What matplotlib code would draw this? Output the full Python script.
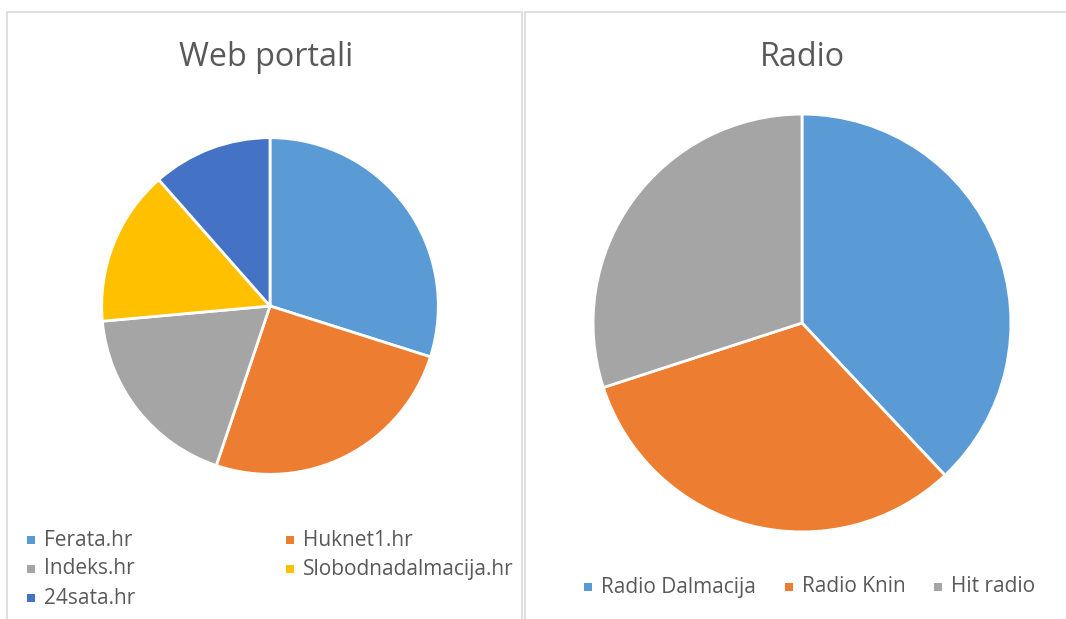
import matplotlib
matplotlib.use('Agg')
import matplotlib.pyplot as plt
from matplotlib.patches import Rectangle

plt.rcParams['font.family'] = ['Open Sans', 'DejaVu Sans']

# data
web_labels = ['Ferata.hr', 'Huknet1.hr', 'Indeks.hr', 'Slobodnadalmacija.hr', '24sata.hr']
web_values = [26, 22, 16, 13, 10]
radio_labels = ['Radio Dalmacija', 'Radio Knin', 'Hit radio']
radio_values = [19, 16, 15]

colors = ['#5B9BD5', '#ED7D31', '#A5A5A5', '#FFC000', '#4472C4']
text_col = '#595959'

W, H = 1066, 619
fig = plt.figure(figsize=(W / 100, H / 100), dpi=100)


def px_axes(cx, cy, r):
    # axes square around pie centre given in pixel coords (top-left origin)
    return fig.add_axes([(cx - r) / W, (H - cy - r) / H, 2 * r / W, 2 * r / H])


# panel borders
fig.patches.append(Rectangle((7 / W, -0.1), (522 - 7) / W, (H - 12) / H + 0.1,
                             transform=fig.transFigure, fill=False,
                             edgecolor='#D9D9D9', linewidth=1.2))
fig.patches.append(Rectangle((525 / W, -0.1), 0.6, (H - 12) / H + 0.1,
                             transform=fig.transFigure, fill=False,
                             edgecolor='#D9D9D9', linewidth=1.2))

# left pie
ax1 = px_axes(270, 306, 170)
ax1.pie(web_values, colors=colors, startangle=90, counterclock=False,
        wedgeprops=dict(edgecolor='white', linewidth=2))
ax1.set_xlim(-1.01, 1.01)
ax1.set_ylim(-1.01, 1.01)
ax1.set_aspect('equal')
ax1.axis('off')

# right pie
ax2 = px_axes(802, 323, 211)
ax2.pie(radio_values, colors=colors[:3], startangle=90, counterclock=False,
        wedgeprops=dict(edgecolor='white', linewidth=2))
ax2.set_xlim(-1.01, 1.01)
ax2.set_ylim(-1.01, 1.01)
ax2.set_aspect('equal')
ax2.axis('off')

# titles
fig.text(266 / W, 1 - 57 / H, 'Web portali', ha='center', va='center',
         fontsize=23.3, color=text_col)
fig.text(802 / W, 1 - 57 / H, 'Radio', ha='center', va='center',
         fontsize=23.3, color=text_col)


def legend_item(x, y, label, col):
    s = 8
    fig.patches.append(Rectangle(((x - s / 2) / W, 1 - (y + s / 2) / H), s / W, s / H,
                                 transform=fig.transFigure, facecolor=col,
                                 edgecolor='none'))
    fig.text((x + 13) / W, 1 - y / H, label, ha='left', va='center',
             fontsize=15, color=text_col)


# left legend (two columns)
left_pos = [(31, 540), (290, 540), (31, 569), (290, 569), (31, 598)]
for (x, y), lab, col in zip(left_pos, web_labels, colors):
    legend_item(x, y, lab, col)

# right legend (one row)
right_pos = [(588, 587), (789, 587), (938, 587)]
for (x, y), lab, col in zip(right_pos, radio_labels, colors):
    legend_item(x, y, lab, col)

fig.savefig('out.png', dpi=100)
